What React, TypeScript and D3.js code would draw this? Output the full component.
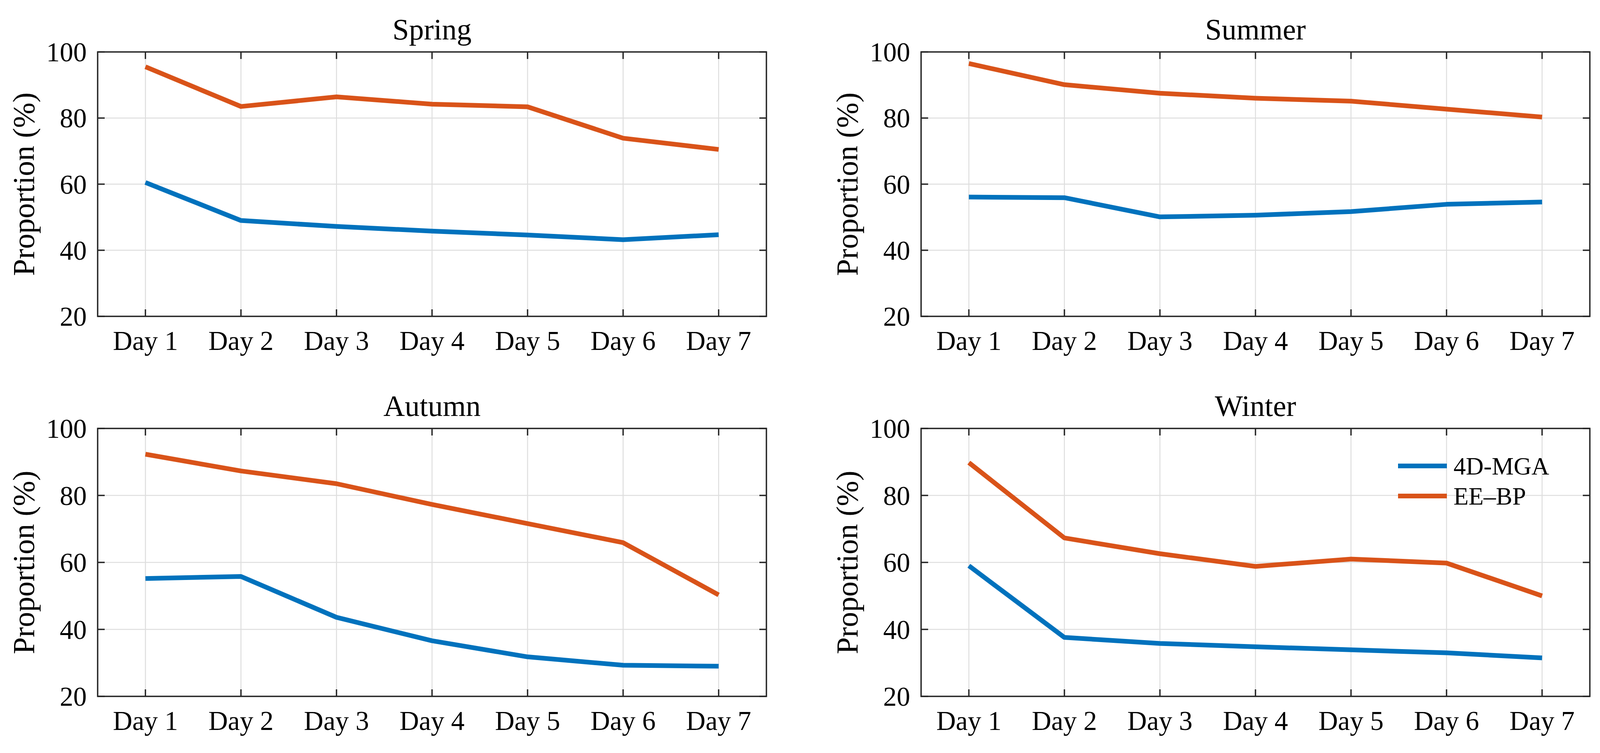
import React from "react";
import * as d3 from "d3";

const days = ["Day 1", "Day 2", "Day 3", "Day 4", "Day 5", "Day 6", "Day 7"];
const yTicks = [20, 40, 60, 80, 100];
const seasons = ["Spring", "Summer", "Autumn", "Winter"];
const seriesNames = ["4D-MGA", "EE\u2013BP"];

const springMGA = [60.5, 49.0, 47.2, 45.8, 44.6, 43.2, 44.7];
const springEEBP = [95.5, 83.5, 86.4, 84.2, 83.4, 73.9, 70.5];
const summerMGA = [56.1, 55.9, 50.1, 50.6, 51.7, 53.9, 54.6];
const summerEEBP = [96.5, 90.1, 87.5, 86.0, 85.1, 82.7, 80.3];
const autumnMGA = [55.2, 55.8, 43.6, 36.6, 31.8, 29.3, 29.0];
const autumnEEBP = [92.3, 87.3, 83.5, 77.3, 71.6, 65.9, 50.3];
const winterMGA = [59.0, 37.6, 35.8, 34.8, 33.9, 33.0, 31.5];
const winterEEBP = [89.8, 67.3, 62.6, 58.8, 61.0, 59.8, 50.0];

const seriesColors = ["#0072BD", "#D95319"];
const W = 4110;
const H = 1928;
const FONT = "'Liberation Serif', 'Times New Roman', serif";

const panelData = [
  [springMGA, springEEBP],
  [summerMGA, summerEEBP],
  [autumnMGA, autumnEEBP],
  [winterMGA, winterEEBP],
];

const panelBoxes = [
  { left: 250, top: 133, bottom: 810 },
  { left: 2358, top: 133, bottom: 810 },
  { left: 250, top: 1097, bottom: 1783 },
  { left: 2358, top: 1097, bottom: 1783 },
];
const panelWidth = 1712;

function Panel({ idx }: { idx: number }) {
  const box = panelBoxes[idx];
  const right = box.left + panelWidth;
  const x = d3.scaleLinear().domain([0.5, 7.5]).range([box.left, right]);
  const y = d3.scaleLinear().domain([20, 100]).range([box.bottom, box.top]);
  const line = d3
    .line<number>()
    .x((_, i) => x(i + 1))
    .y((d) => y(d));
  const axisColor = "#262626";
  const gridColor = "#dedede";
  const tickLen = 18;
  const midY = (box.top + box.bottom) / 2;
  const midX = (box.left + right) / 2;
  return (
    <g>
      {/* grid */}
      {days.map((_, i) => (
        <line key={"gx" + i} x1={x(i + 1)} x2={x(i + 1)} y1={box.top} y2={box.bottom} stroke={gridColor} strokeWidth={2.5} />
      ))}
      {yTicks.map((t) => (
        <line key={"gy" + t} x1={box.left} x2={right} y1={y(t)} y2={y(t)} stroke={gridColor} strokeWidth={2.5} />
      ))}
      {/* data */}
      {panelData[idx].map((s, k) => (
        <path key={"s" + k} d={line(s) || ""} fill="none" stroke={seriesColors[k]} strokeWidth={12} strokeLinejoin="round" strokeLinecap="butt" />
      ))}
      {/* ticks */}
      {days.map((_, i) => (
        <g key={"tx" + i}>
          <line x1={x(i + 1)} x2={x(i + 1)} y1={box.bottom} y2={box.bottom - tickLen} stroke={axisColor} strokeWidth={3.5} />
          <line x1={x(i + 1)} x2={x(i + 1)} y1={box.top} y2={box.top + tickLen} stroke={axisColor} strokeWidth={3.5} />
        </g>
      ))}
      {yTicks.map((t) => (
        <g key={"ty" + t}>
          <line x1={box.left} x2={box.left + tickLen} y1={y(t)} y2={y(t)} stroke={axisColor} strokeWidth={3.5} />
          <line x1={right} x2={right - tickLen} y1={y(t)} y2={y(t)} stroke={axisColor} strokeWidth={3.5} />
        </g>
      ))}
      {/* box */}
      <rect x={box.left} y={box.top} width={panelWidth} height={box.bottom - box.top} fill="none" stroke={axisColor} strokeWidth={3.5} />
      {/* tick labels */}
      {days.map((d, i) => (
        <text key={"lx" + i} x={x(i + 1)} y={box.bottom + 86} textAnchor="middle" fontSize={69} fontFamily={FONT} fill="#000">
          {d}
        </text>
      ))}
      {yTicks.map((t) => (
        <text key={"ly" + t} x={box.left - 28} y={y(t)} dy="0.35em" textAnchor="end" fontSize={69} fontFamily={FONT} fill="#000">
          {t}
        </text>
      ))}
      {/* y label */}
      <text transform={`translate(${box.left - 163},${midY}) rotate(-90)`} textAnchor="middle" fontSize={78} fontFamily={FONT} fill="#000">
        Proportion (%)
      </text>
      {/* title */}
      <text x={midX} y={box.top - 32} textAnchor="middle" fontSize={76} fontFamily={FONT} fill="#000">
        {seasons[idx]}
      </text>
    </g>
  );
}

function Legend() {
  const x0 = 3579;
  const x1 = 3704;
  const rows = [1193, 1270];
  return (
    <g>
      {seriesNames.map((n, k) => (
        <g key={n}>
          <line x1={x0} x2={x1} y1={rows[k]} y2={rows[k]} stroke={seriesColors[k]} strokeWidth={12} />
          <text x={3721} y={rows[k]} dy="0.35em" fontSize={63} fontFamily={FONT} fill="#000">
            {n}
          </text>
        </g>
      ))}
    </g>
  );
}

export default function App() {
  return (
    <svg
      width={W}
      height={H}
      viewBox={`0 0 ${W} ${H}`}
      style={{ position: "absolute", left: 0, top: 0, background: "#fff" }}
    >
      <rect x={0} y={0} width={W} height={H} fill="#fff" />
      {[0, 1, 2, 3].map((i) => (
        <Panel key={i} idx={i} />
      ))}
      <Legend />
    </svg>
  );
}
